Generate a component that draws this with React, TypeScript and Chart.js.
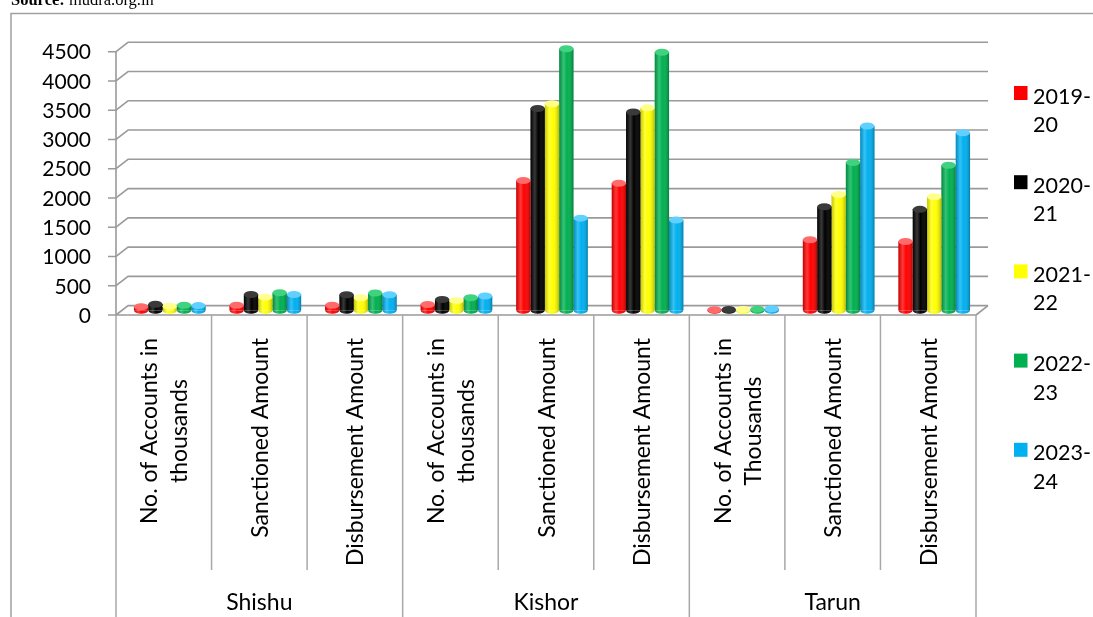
import React, { useEffect, useRef } from "react";
import { Chart, registerables } from "chart.js";

Chart.register(...registerables);

const W = 1093;
const H = 617;

const groups = ["Shishu", "Kishor", "Tarun"];
const categories: string[][] = [
  ["No. of Accounts in", "thousands"],
  ["Sanctioned Amount"],
  ["Disbursement Amount"],
  ["No. of Accounts in", "thousands"],
  ["Sanctioned Amount"],
  ["Disbursement Amount"],
  ["No. of Accounts in", "Thousands"],
  ["Sanctioned Amount"],
  ["Disbursement Amount"],
];
const seriesLabels = ["2019-20", "2020-21", "2021-22", "2022-23", "2023-24"];
const seriesColors = ["#FF0000", "#000000", "#FFFF00", "#00B050", "#00B0F0"];
const capColors = ["#FF6A6A", "#3A3A3A", "#FFFF8A", "#3FD27F", "#5FD0FF"];

const s2019 = [60, 85, 85, 100, 2220, 2170, 10, 1205, 1175];
const s2020 = [105, 270, 265, 185, 3450, 3390, 12, 1770, 1725];
const s2021 = [70, 225, 215, 165, 3530, 3460, 15, 1980, 1940];
const s2022 = [85, 300, 295, 215, 4470, 4410, 20, 2525, 2480];
const s2023 = [80, 270, 265, 245, 1575, 1545, 25, 3150, 3035];
const seriesValues = [s2019, s2020, s2021, s2022, s2023];

const yTicks = [0, 500, 1000, 1500, 2000, 2500, 3000, 3500, 4000, 4500];

const DX = 6;
const DY = 4.7;
const NUM_FONT = "21px Lato";
const LABEL_FONT = "23px Lato";
const LEGEND_FONT = "21.5px Lato";
const GRID = "#9a9a9a";

const excelPlugin = {
  id: "excel3d",
  beforeDraw(chart: any) {
    const ctx: CanvasRenderingContext2D = chart.ctx;
    ctx.save();
    ctx.fillStyle = "#ffffff";
    ctx.fillRect(0, 0, W, H);
    ctx.fillStyle = "#000";
    ctx.textAlign = "left";
    ctx.textBaseline = "alphabetic";
    ctx.font = "bold 16.5px 'Liberation Serif'";
    ctx.fillText("Source:", 11, 5);
    const sw = ctx.measureText("Source: ").width;
    ctx.font = "16.5px 'Liberation Serif'";
    ctx.fillText("mudra.org.in", 11 + sw, 5);
    ctx.strokeStyle = "#a0a0a0";
    ctx.lineWidth = 1.5;
    ctx.strokeRect(11, 13.5, 1300, 900);
    ctx.restore();
  },
  beforeDatasetsDraw(chart: any) {
    const ctx: CanvasRenderingContext2D = chart.ctx;
    const y = chart.scales.y;
    const { left: L, right: R, top: T, bottom: B } = chart.chartArea;
    ctx.save();
    ctx.strokeStyle = GRID;
    ctx.lineWidth = 1.6;
    ctx.lineJoin = "round";
    for (const v of yTicks) {
      const ym = y.getPixelForValue(v);
      ctx.beginPath();
      ctx.moveTo(L - DX - 8, ym + DY);
      ctx.lineTo(L - DX, ym + DY);
      ctx.lineTo(L + DX, ym - DY);
      ctx.lineTo(R + DX, ym - DY);
      ctx.stroke();
    }
    ctx.beginPath();
    ctx.moveTo(L - DX, T + DY);
    ctx.lineTo(L - DX, B + DY);
    ctx.lineTo(R - DX, B + DY);
    ctx.lineTo(R + DX, B - DY);
    ctx.stroke();
    ctx.fillStyle = "#000";
    ctx.font = NUM_FONT;
    ctx.textAlign = "right";
    ctx.textBaseline = "middle";
    for (const v of yTicks) {
      const ym = y.getPixelForValue(v);
      ctx.fillText(String(v), 91, ym + DY + 1);
    }
    ctx.restore();
  },
  afterDatasetsDraw(chart: any) {
    const ctx: CanvasRenderingContext2D = chart.ctx;
    ctx.save();
    chart.data.datasets.forEach((ds: any, di: number) => {
      const meta = chart.getDatasetMeta(di);
      meta.data.forEach((el: any) => {
        const { x, y, base, width } = el.getProps(["x", "y", "base", "width"], true);
        const x0 = x - width / 2;
        const x1 = x + width / 2;
        const g = ctx.createLinearGradient(x0, 0, x1, 0);
        g.addColorStop(0, "rgba(0,0,0,0.22)");
        g.addColorStop(0.3, "rgba(255,255,255,0.22)");
        g.addColorStop(0.55, "rgba(255,255,255,0)");
        g.addColorStop(1, "rgba(0,0,0,0.28)");
        ctx.fillStyle = seriesColors[di];
        ctx.beginPath();
        ctx.ellipse(x, base, width / 2, 3.5, 0, 0, Math.PI);
        ctx.fill();
        ctx.fillStyle = g;
        ctx.fillRect(x0, Math.min(y, base), width, Math.abs(base - y));
        ctx.beginPath();
        ctx.ellipse(x, base, width / 2, 3.5, 0, 0, Math.PI);
        ctx.fill();
        ctx.fillStyle = capColors[di];
        ctx.beginPath();
        ctx.ellipse(x, y, width / 2, 3.5, 0, 0, Math.PI * 2);
        ctx.fill();
      });
    });
    ctx.restore();
  },
  afterDraw(chart: any) {
    const ctx: CanvasRenderingContext2D = chart.ctx;
    const { left: L, right: R, bottom: B } = chart.chartArea;
    const n = categories.length;
    const catW = (R - L) / n;
    const x0 = L - DX;
    ctx.save();
    ctx.strokeStyle = "#a8a8a8";
    ctx.lineWidth = 1.5;
    for (let k = 0; k <= n; k++) {
      const bx = x0 + k * catW;
      ctx.beginPath();
      ctx.moveTo(bx, B + DY);
      ctx.lineTo(bx, k % 3 === 0 ? H : 570);
      ctx.stroke();
    }
    ctx.fillStyle = "#000";
    ctx.font = LABEL_FONT;
    const lineH = 30;
    categories.forEach((lines, i) => {
      const cx = chart.scales.x.getPixelForValue(i) - DX;
      const widths = lines.map((l) => ctx.measureText(l).width);
      const maxW = Math.max(...widths);
      ctx.save();
      ctx.translate(cx, 338);
      ctx.rotate(-Math.PI / 2);
      ctx.textAlign = "center";
      ctx.textBaseline = "alphabetic";
      lines.forEach((l, j) => {
        const off = 8.5 - ((lines.length - 1) * lineH) / 2 + j * lineH;
        ctx.fillText(l, -maxW / 2, off);
      });
      ctx.restore();
    });
    ctx.textAlign = "center";
    ctx.textBaseline = "alphabetic";
    groups.forEach((g, gi) => {
      const cx = x0 + (gi * 3 + 1.5) * catW;
      ctx.fillText(g, cx, 610);
    });
    ctx.font = LEGEND_FONT;
    ctx.textAlign = "left";
    seriesLabels.forEach((lab, i) => {
      const bl = 103.5 + i * 89.2;
      ctx.fillStyle = seriesColors[i];
      ctx.fillRect(1014, bl - 17.5, 13.5, 14);
      ctx.fillStyle = "#000";
      const parts = lab.split("-");
      ctx.fillText(parts[0] + "-", 1033, bl);
      ctx.fillText(parts[1], 1033, bl + 28.4);
    });
    ctx.restore();
  },
};

export default function App() {
  const ref = useRef<HTMLCanvasElement | null>(null);
  useEffect(() => {
    if (!ref.current) return;
    const chart = new Chart(ref.current, {
      type: "bar",
      data: {
        labels: categories.map((c) => c.join(" ")),
        datasets: seriesLabels.map((lab, i) => ({
          label: lab,
          data: seriesValues[i],
          backgroundColor: seriesColors[i],
          borderWidth: 0,
          barPercentage: 1,
          categoryPercentage: 0.75,
        })),
      },
      options: {
        responsive: false,
        animation: false,
        devicePixelRatio: 1,
        layout: { padding: { left: 122, right: W - 982, top: 47, bottom: H - 310.3 } },
        plugins: { legend: { display: false }, tooltip: { enabled: false } },
        scales: {
          x: { display: false },
          y: { display: false, min: 0, max: 4500, ticks: { stepSize: 500 } },
        },
      },
      plugins: [excelPlugin],
    });
    return () => chart.destroy();
  }, []);
  return (
    <div style={{ position: "fixed", left: 0, top: 0, width: W, height: H, background: "#fff" }}>
      <canvas ref={ref} width={W} height={H} style={{ display: "block", width: W, height: H }} />
    </div>
  );
}
